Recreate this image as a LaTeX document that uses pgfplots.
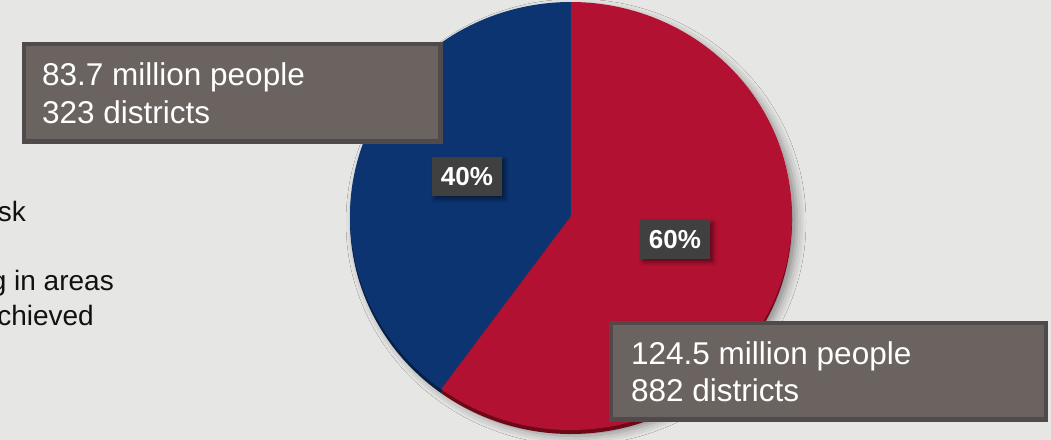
\documentclass[border=0pt]{standalone}
\usepackage{pgfplots}
\pgfplotsset{compat=1.18}
\usepackage{pgfplotstable}
\usepackage{fontspec}
\setmainfont{Liberation Sans}
\usetikzlibrary{shadows.blur}
\definecolor{bg}{HTML}{E6E6E5}
\definecolor{pieblue}{HTML}{0C3470}
\definecolor{piered}{HTML}{B31131}
\definecolor{darkblue}{HTML}{071F47}
\definecolor{darkred}{HTML}{6E0818}
\definecolor{boxfill}{HTML}{6B6360}
\definecolor{boxline}{HTML}{504B4A}
\definecolor{pctfill}{HTML}{404040}
\definecolor{legtext}{HTML}{111111}

\pgfplotstableread{
share value
1 40
2 60
}\piedata
\pgfplotstablegetelem{0}{value}\of\piedata \pgfmathsetmacro{\va}{\pgfplotsretval}
\pgfplotstablegetelem{1}{value}\of\piedata \pgfmathsetmacro{\vb}{\pgfplotsretval}
\pgfmathsetmacro{\tot}{\va+\vb}
\pgfmathsetmacro{\angA}{90+\va/\tot*360}
\pgfmathsetmacro{\angB}{\angA+\vb/\tot*360}
\pgfmathsetmacro{\pAx}{571+221*cos(\angA)}
\pgfmathsetmacro{\pAy}{224+214*sin(\angA)}

\begin{document}%
\begin{tikzpicture}
\fill[bg] (0,0) rectangle (1051bp,440bp);
\begin{axis}[at={(0,0)}, anchor=south west, width=1051bp, height=440bp,
  scale only axis, xmin=0, xmax=1051, ymin=0, ymax=440, hide axis, clip=false]
% soft shadow
\fill[bg, blur shadow={shadow xshift=5bp, shadow yshift=-6bp, shadow blur radius=9bp, shadow opacity=40}]
  (axis cs:571,224) ellipse[x radius=221bp, y radius=214bp];
% 3D rim
\fill[darkblue] (axis cs:571,220) -- (axis cs:571,434)
  arc[start angle=90, end angle=\angA, x radius=221bp, y radius=214bp] -- cycle;
\fill[darkred] (axis cs:571,220) -- (axis cs:\pAx,{\pAy-4})
  arc[start angle=\angA, end angle=\angB, x radius=221bp, y radius=214bp] -- cycle;
% slices
\fill[pieblue] (axis cs:571,224) -- (axis cs:571,438)
  arc[start angle=90, end angle=\angA, x radius=221bp, y radius=214bp] -- cycle;
\fill[piered] (axis cs:571,224) -- (axis cs:\pAx,\pAy)
  arc[start angle=\angA, end angle=\angB, x radius=221bp, y radius=214bp] -- cycle;
% percentage labels
\node[fill=pctfill, text=white, font=\bfseries\fontsize{26bp}{30bp}\selectfont,
  minimum width=70bp, minimum height=39bp, inner sep=0pt,
  blur shadow={shadow xshift=3bp, shadow yshift=-3bp, shadow blur radius=4bp, shadow opacity=50}]
  at (axis cs:467,263.5) {40\%};
\node[fill=pctfill, text=white, font=\bfseries\fontsize{26bp}{30bp}\selectfont,
  minimum width=70bp, minimum height=39bp, inner sep=0pt,
  blur shadow={shadow xshift=3bp, shadow yshift=-3bp, shadow blur radius=4bp, shadow opacity=50}]
  at (axis cs:675,200.5) {60\%};
% callout boxes
\draw[boxline, line width=4.5bp, fill=boxfill] (axis cs:24.25,395.75) rectangle (axis cs:440.75,298.25);
\node[anchor=base west, text=white, inner sep=0pt, font=\fontsize{31.5bp}{37bp}\selectfont]
  at (axis cs:42,355) {83.7 million people};
\node[anchor=base west, text=white, inner sep=0pt, font=\fontsize{31.5bp}{37bp}\selectfont]
  at (axis cs:42,317) {323 districts};
\draw[boxline, line width=4.5bp, fill=boxfill] (axis cs:611.25,116.75) rectangle (axis cs:1045.75,20.25);
\node[anchor=base west, text=white, inner sep=0pt, font=\fontsize{31.5bp}{37bp}\selectfont]
  at (axis cs:631,76) {124.5 million people};
\node[anchor=base west, text=white, inner sep=0pt, font=\fontsize{31.5bp}{37bp}\selectfont]
  at (axis cs:631,39) {882 districts};
% cropped legend text at left
\node[anchor=base east, text=legtext, inner sep=0pt, font=\fontsize{28bp}{34bp}\selectfont]
  at (axis cs:26,219) {risk};
\node[anchor=base east, text=legtext, inner sep=0pt, font=\fontsize{28bp}{34bp}\selectfont]
  at (axis cs:114,149.5) {g in areas};
\node[anchor=base east, text=legtext, inner sep=0pt, font=\fontsize{28bp}{34bp}\selectfont]
  at (axis cs:94,115) {achieved};
\end{axis}
\pgfresetboundingbox
\path[use as bounding box] (0,0) rectangle (1051bp,440bp);
\end{tikzpicture}%
\end{document}
